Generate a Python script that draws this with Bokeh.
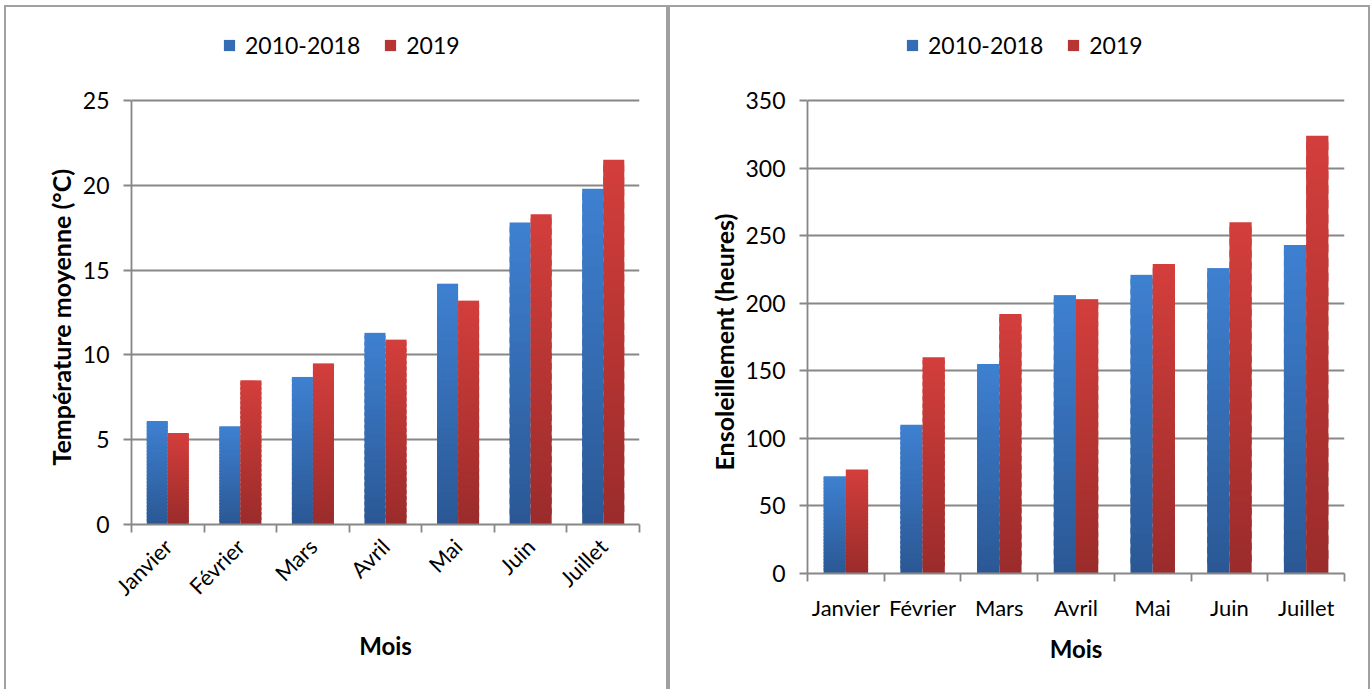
import math
from bokeh.plotting import figure
from bokeh.models import ColumnDataSource, FixedTicker, Legend, LegendItem, Range1d, Title
from bokeh.embed import file_html
from bokeh.resources import INLINE

# ---------------- data ----------------
months = ["Janvier", "Février", "Mars", "Avril", "Mai", "Juin", "Juillet"]
series_names = ["2010-2018", "2019"]
temp_ref = [6.1, 5.8, 8.7, 11.3, 14.2, 17.8, 19.8]
temp_2019 = [5.4, 8.5, 9.5, 10.9, 13.2, 18.3, 21.5]
sun_ref = [72, 110, 155, 206, 221, 226, 243]
sun_2019 = [77, 160, 192, 203, 229, 260, 324]
temp_ticks = [0, 5, 10, 15, 20, 25]
sun_ticks = [0, 50, 100, 150, 200, 250, 300, 350]

# ---------------- style ----------------
FONT = "Lato"
GRAY = "#878787"
BLUE = ("#2b5895", "#3e80d0")   # bottom, top
RED = ("#9b2c2b", "#d23e3b")
NSEG = 30
BAR_W = 0.29
H = 684
CANVAS_TOP = 7      # page y where each canvas starts (margin + border)
FRAME_TOP = 20      # page y of the (extended) plot frame top
AXIS_TOP = 100      # page y where the top tick sits


def lerp_hex(c0, c1, t):
    a = [int(c0[i:i + 2], 16) for i in (1, 3, 5)]
    b = [int(c1[i:i + 2], 16) for i in (1, 3, 5)]
    return "#" + "".join("%02x" % round(a[j] + (b[j] - a[j]) * t) for j in range(3))


def gradient_source(values, offset, colors):
    xs, bottoms, tops, fills = [], [], [], []
    for i, v in enumerate(values):
        for k in range(NSEG):
            xs.append(i + offset)
            bottoms.append(v * k / NSEG)
            tops.append(min(v, v * (k + 1.6) / NSEG))
            fills.append(lerp_hex(colors[0], colors[1], k / (NSEG - 1)))
    return ColumnDataSource(dict(x=xs, bottom=bottoms, top=tops, fill=fills))


def make_fig(a, b, ticks, ylabel, width, left, right, zero_y, rotate, legend_x, title_lift):
    frame_h = zero_y - FRAME_TOP
    top = FRAME_TOP - CANVAS_TOP
    bottom = H - top - frame_h
    ymax = ticks[-1] * frame_h / (zero_y - AXIS_TOP)
    p = figure(width=width, height=H,
               x_range=Range1d(-0.5, len(months) - 0.5),
               y_range=Range1d(ticks[0], ymax),
               output_backend="svg", toolbar_location=None,
               min_border_left=left, min_border_right=right,
               min_border_top=top, min_border_bottom=bottom)
    p.outline_line_color = None
    p.background_fill_color = "white"
    p.border_fill_color = "white"

    ra = p.vbar(x="x", bottom="bottom", top="top", width=BAR_W, fill_color="fill",
                line_color=None, source=gradient_source(a, -BAR_W / 2, BLUE))
    rb = p.vbar(x="x", bottom="bottom", top="top", width=BAR_W, fill_color="fill",
                line_color=None, source=gradient_source(b, BAR_W / 2, RED))

    # x axis
    xa = p.xaxis[0]
    xa.ticker = FixedTicker(ticks=list(range(len(months))),
                            minor_ticks=[i - 0.5 for i in range(len(months) + 1)])
    xa.major_label_overrides = {i: m for i, m in enumerate(months)}
    xa.major_tick_out = 0
    xa.major_tick_in = 0
    xa.minor_tick_out = 8
    xa.minor_tick_in = 0
    xa.minor_tick_line_color = GRAY
    xa.minor_tick_line_width = 1.8
    xa.axis_line_color = GRAY
    xa.axis_line_width = 1.8
    xa.major_label_text_font = FONT
    xa.major_label_text_font_size = "22px"
    xa.major_label_text_color = "black"
    xa.axis_label = "Mois"
    xa.axis_label_text_font = FONT
    xa.axis_label_text_font_size = "24px"
    xa.axis_label_text_font_style = "bold"
    xa.axis_label_text_color = "black"
    if rotate:
        xa.major_label_orientation = math.pi / 4
        xa.major_label_standoff = 10
        xa.axis_label_standoff = 18
    else:
        xa.major_label_standoff = 12
        xa.axis_label_standoff = 10

    # y axis (line limited to the tick span)
    ya = p.yaxis[0]
    ya.bounds = (ticks[0], ticks[-1])
    ya.ticker = FixedTicker(ticks=ticks, minor_ticks=[])
    ya.major_tick_out = 8
    ya.major_tick_in = 0
    ya.major_tick_line_color = GRAY
    ya.major_tick_line_width = 1.8
    ya.axis_line_color = GRAY
    ya.axis_line_width = 1.8
    ya.major_label_text_font = FONT
    ya.major_label_text_font_size = "23px"
    ya.major_label_text_color = "black"
    ya.major_label_standoff = 14

    # y title, starting a little above the x axis
    yt = Title(text=ylabel, align="left", offset=title_lift, standoff=8,
               text_font=FONT, text_font_size="25px", text_font_style="bold",
               text_color="black")
    p.add_layout(yt, "left")

    p.xgrid.visible = False
    p.ygrid.ticker = FixedTicker(ticks=ticks)
    p.ygrid.grid_line_color = GRAY
    p.ygrid.grid_line_width = 1.8

    legend = Legend(items=[LegendItem(label=series_names[0], renderers=[ra], index=NSEG // 2),
                           LegendItem(label=series_names[1], renderers=[rb], index=NSEG // 2)],
                    orientation="horizontal", location=(legend_x, zero_y - 59))
    legend.border_line_color = None
    legend.background_fill_alpha = 0
    legend.label_text_font = FONT
    legend.label_text_font_size = "23px"
    legend.label_text_color = "black"
    legend.glyph_width = 14
    legend.glyph_height = 14
    legend.label_standoff = 9
    legend.spacing = 23
    legend.padding = 0
    legend.margin = 0
    p.add_layout(legend, "center")
    return p


p1 = make_fig(temp_ref, temp_2019, temp_ticks, "Température moyenne (°C)",
              664, 125, 31, 524, True, 91, 59)
p2 = make_fig(sun_ref, sun_2019, sun_ticks, "Ensoleillement (heures)",
              702, 137, 28, 573, False, 98, 103)

panel_border = {"border-top": "2px solid #a0a0a0", "border-left": "2px solid #a0a0a0",
                "border-right": "2px solid #a0a0a0", "border-bottom": "none",
                "box-sizing": "border-box"}
p1.styles = dict(panel_border, **{"margin-top": "5px", "margin-left": "4px"})
p2.styles = dict(panel_border, **{"position": "absolute", "left": "668px", "top": "5px"})

open("out.html", "w").write(file_html([p1, p2], INLINE))
